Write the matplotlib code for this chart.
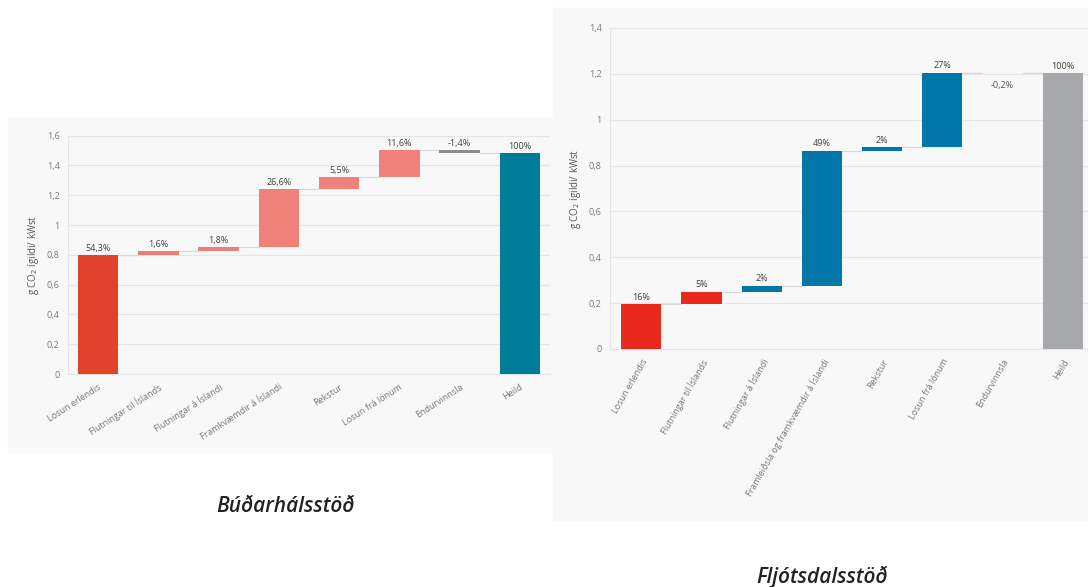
import matplotlib
matplotlib.use("Agg")
import matplotlib.pyplot as plt
import matplotlib.ticker as mticker
from matplotlib.patches import Rectangle
import numpy as np

plt.rcParams['font.family'] = ['Open Sans', 'DejaVu Sans']

# Búðarhálsstöð
cats_b = ['Losun erlendis', 'Flutningar til Íslands', 'Flutningar á Íslandi',
          'Framkvæmdir á Íslandi', 'Rekstur', 'Losun frá lónum', 'Endurvinnsla', 'Heild']
steps_b = [0.80, 0.025, 0.027, 0.39, 0.08, 0.18, -0.02]
labels_b = ['54,3%', '1,6%', '1,8%', '26,6%', '5,5%', '11,6%', '-1,4%', '100%']
colors_b = ['#e2432d', '#ea7f78', '#ec7f79', '#ef807a', '#ef807a', '#ef807a', '#8c8c8c', '#007b98']

# Fljótsdalsstöð
cats_f = ['Losun erlendis', 'Flutningar til Íslands', 'Flutningar á Íslandi',
          'Framleiðsla og framkvæmdir á Íslandi', 'Rekstur', 'Losun frá lónum', 'Endurvinnsla', 'Heild']
steps_f = [0.195, 0.055, 0.025, 0.59, 0.015, 0.325, -0.003]
labels_f = ['16%', '5%', '2%', '49%', '2%', '27%', '-0,2%', '100%']
colors_f = ['#e8291c', '#e8291c', '#0077a8', '#0077a8', '#0077a8', '#0077a8', '#8c8c8c', '#a7a8ab']

W, H = 1088, 587
fig = plt.figure(figsize=(W / 100, H / 100), dpi=100)
fig.patch.set_facecolor('white')

def box(x0, y0, x1, y1):
    return [x0 / W, 1 - y1 / H, (x1 - x0) / W, (y1 - y0) / H]

bg = '#f8f8f8'
fig.patches.append(Rectangle((8 / W, 1 - 452 / H), (555 - 8) / W, (452 - 117) / H,
                             transform=fig.transFigure, color=bg, zorder=-5))
fig.patches.append(Rectangle((553 / W, 1 - 520 / H), (1088 - 553) / W, (520 - 8) / H,
                             transform=fig.transFigure, color=bg, zorder=-5))


def waterfall(ax, cats, steps, labels, colors, ymax, rot, neg_below):
    steps = np.array(steps)
    ends = np.cumsum(steps)
    starts = ends - steps
    total = ends[-1]
    x = np.arange(len(cats))
    bottoms = list(np.minimum(starts, ends)) + [0]
    heights = list(np.abs(steps)) + [total]
    tops = list(np.maximum(starts, ends)) + [total]
    ax.bar(x, heights, bottom=bottoms, width=0.67, color=colors, zorder=3)
    levels = list(ends)
    for i in range(len(cats) - 1):
        ax.plot([i + 0.335, i + 1 - 0.335], [levels[i], levels[i]], color='#d9d9d9', lw=0.9, zorder=2)
    for i, lab in enumerate(labels):
        if neg_below and i < len(steps) and steps[i] < 0:
            ax.text(x[i], bottoms[i] - ymax * 0.025, lab, ha='center', va='top', fontsize=6.5, color='#555555')
        else:
            ax.text(x[i], tops[i] + ymax * 0.008, lab, ha='center', va='bottom', fontsize=6.5, color='#404040')
    ax.set_facecolor(bg)
    ax.set_ylim(0, ymax)
    ax.set_yticks(np.arange(0, ymax + 0.01, 0.2))
    ax.yaxis.set_major_formatter(mticker.FuncFormatter(
        lambda v, p: '0' if abs(v) < 1e-9 else ('1' if abs(v - 1) < 1e-9 else ('%.1f' % v).replace('.', ','))))
    ax.grid(axis='y', color='#e6e6e6', lw=0.9, zorder=0)
    ax.set_axisbelow(True)
    for s in ['top', 'right']:
        ax.spines[s].set_visible(False)
    ax.spines['left'].set_color('#e6e6e6')
    ax.spines['bottom'].set_color('#e6e6e6')
    ax.tick_params(length=0, labelsize=6.5, colors='#777777', pad=6)
    ax.set_xticks(x)
    ax.set_xticklabels(cats, rotation=rot, ha='right', rotation_mode='anchor', fontsize=6.5, color='#777777')
    ax.set_ylabel('g CO$_2$ ígildi/ kWst', fontsize=7, color='#555555', labelpad=4)


ax1 = fig.add_axes(box(68, 135.7, 550, 374))
ax1.set_xlim(-0.5, 7.5)
waterfall(ax1, cats_b, steps_b, labels_b, colors_b, 1.6, 33, False)

ax2 = fig.add_axes(box(610, 28, 1088, 349))
ax2.set_xlim(-0.52, 7.42)
waterfall(ax2, cats_f, steps_f, labels_f, colors_f, 1.4, 60, True)

fig.text(285 / W, 1 - 507 / H, 'Búðarhálsstöð', ha='center', va='center',
         fontsize=15, style='italic', weight='semibold', color='#222222')
fig.text(822 / W, 1 - 577 / H, 'Fljótsdalsstöð', ha='center', va='center',
         fontsize=15, style='italic', weight='semibold', color='#222222')

fig.savefig('out.png', dpi=100, facecolor='white')
